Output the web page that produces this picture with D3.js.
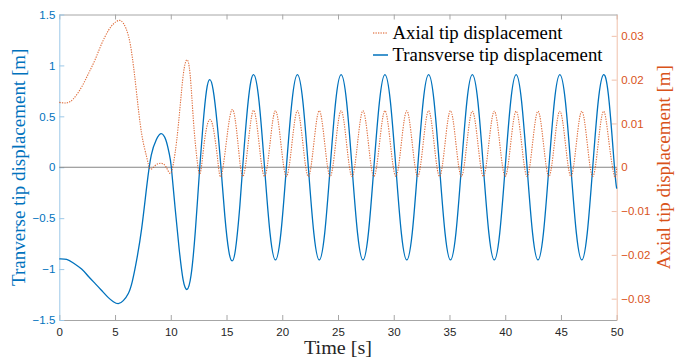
<!DOCTYPE html>
<html><head><meta charset="utf-8">
<script src="https://cdn.jsdelivr.net/npm/d3@7"></script>
<style>
html,body{margin:0;padding:0;background:#fff;}
svg{display:block;}
</style></head>
<body>
<svg id="chart" width="675" height="363"></svg>
<script>
// ---- data ----
const xTicks = [0,5,10,15,20,25,30,35,40,45,50];
const leftTicks = [-1.5,-1,-0.5,0,0.5,1,1.5];
const rightTicks = [-0.03,-0.02,-0.01,0,0.01,0.02,0.03];
const seriesNames = ["Axial tip displacement","Transverse tip displacement"];

// Transverse tip displacement [m]: [time s, value]
const transverse = [
 [0,-0.90],[0.66,-0.905],[1.26,-0.94],[2.0,-1.00],[2.6,-1.07],[3.2,-1.14],[3.8,-1.21],[4.4,-1.28],[4.85,-1.32],[5.29,-1.34],
 [5.74,-1.31],[6.19,-1.24],[6.55,-1.12],[6.94,-0.91],[7.39,-0.60],[7.84,-0.19],[8.25,0.12],[8.7,0.27],[9.12,0.33],[9.55,0.27],
 [9.85,0.14],[10.05,0.0],[10.38,-0.39],[10.74,-0.79],[11.1,-1.10],[11.46,-1.20],[11.82,-1.06],[12.2,-0.63],[12.6,0.0],[12.9,0.43],
 [13.2,0.75],[13.49,0.86],[13.8,0.76],[14.15,0.44],[14.5,0.0],[14.85,-0.48],[15.2,-0.82],[15.5,-0.92],[15.8,-0.81],[16.15,-0.44],
 [16.45,0],[16.94,0.645],[17.43,0.91],[17.92,0.645],[18.41,0],[18.90,-0.645],[19.39,-0.91],[19.88,-0.645],
 [20.37,0],[20.87,0.645],[21.36,0.91],[21.85,0.645],[22.34,0],[22.83,-0.645],[23.32,-0.91],[23.81,-0.645],
 [24.30,0],[24.79,0.645],[25.28,0.91],[25.77,0.645],[26.26,0],[26.75,-0.645],[27.24,-0.91],[27.73,-0.645],
 [28.22,0],[28.72,0.645],[29.21,0.91],[29.70,0.645],[30.19,0],[30.68,-0.645],[31.17,-0.91],[31.66,-0.645],
 [32.15,0],[32.64,0.645],[33.13,0.91],[33.62,0.645],[34.11,0],[34.60,-0.645],[35.09,-0.91],[35.58,-0.645],
 [36.07,0],[36.56,0.645],[37.05,0.91],[37.55,0.645],[38.04,0],[38.53,-0.645],[39.02,-0.91],[39.51,-0.645],
 [40.00,0],[40.49,0.645],[40.98,0.91],[41.47,0.645],[41.96,0],[42.45,-0.645],[42.94,-0.91],[43.43,-0.645],
 [43.92,0],[44.41,0.645],[44.90,0.91],[45.40,0.645],[45.89,0],[46.38,-0.645],[46.87,-0.91],[47.36,-0.645],
 [47.85,0],[48.34,0.645],[48.83,0.91],[49.32,0.645],[49.80,0],[50,-0.21]
];

// Axial tip displacement [m]: [time s, value]
const axial = [
 [0,0.0148],[0.66,0.0147],[1.26,0.0156],[2.0,0.0183],[2.6,0.0213],[3.2,0.0245],[3.8,0.0282],[4.4,0.0312],[4.85,0.0327],[5.3,0.0335],
 [5.74,0.0329],[6.19,0.0301],[6.55,0.0251],[6.94,0.0168],[7.39,0.0076],[7.84,0.0023],[8.15,-0.0004],[8.6,0.0004],[9.1,0.0009],[9.55,0.0002],
 [9.93,-0.0014],[10.23,0.0008],[10.53,0.0061],[10.83,0.0137],[11.13,0.0213],[11.43,0.0245],[11.73,0.0213],[12.03,0.0107],[12.33,0.0023],[12.62,-0.0015],
 [12.92,0.0038],[13.22,0.0091],[13.52,0.0109],[13.82,0.0088],[14.18,0.0023],[14.51,-0.0021],[15.0,0.0061],[15.52,0.0132],[16.0,0.0061],
 [16.45,-0.0021],[16.94,0.0054],[17.43,0.0130],[17.92,0.0054],[18.41,-0.0021],[18.90,0.0054],[19.39,0.0129],[19.88,0.0054],
 [20.37,-0.0021],[20.87,0.0054],[21.36,0.0129],[21.85,0.0054],[22.34,-0.0021],[22.83,0.0054],[23.32,0.0129],[23.81,0.0054],
 [24.30,-0.0021],[24.79,0.0054],[25.28,0.0129],[25.77,0.0054],[26.26,-0.0021],[26.75,0.0054],[27.24,0.0129],[27.73,0.0054],
 [28.22,-0.0021],[28.72,0.0054],[29.21,0.0129],[29.70,0.0054],[30.19,-0.0021],[30.68,0.0054],[31.17,0.0129],[31.66,0.0054],
 [32.15,-0.0021],[32.64,0.0054],[33.13,0.0129],[33.62,0.0054],[34.11,-0.0021],[34.60,0.0054],[35.09,0.0129],[35.58,0.0054],
 [36.07,-0.0021],[36.56,0.0054],[37.05,0.0128],[37.55,0.0054],[38.04,-0.0021],[38.53,0.0054],[39.02,0.0128],[39.51,0.0054],
 [40.00,-0.0021],[40.49,0.0054],[40.98,0.0128],[41.47,0.0054],[41.96,-0.0021],[42.45,0.0054],[42.94,0.0128],[43.43,0.0054],
 [43.92,-0.0021],[44.41,0.0054],[44.90,0.0128],[45.40,0.0054],[45.89,-0.0021],[46.38,0.0054],[46.87,0.0128],[47.36,0.0054],
 [47.85,-0.0021],[48.34,0.0054],[48.83,0.0128],[49.32,0.0054],[49.80,-0.0021],[50,0.0000]
];

// ---- drawing ----
const blue = "#0072BD", orange = "#D95319";
const svg = d3.select("#chart");
const L = 59.3, R = 616.7, T = 14.5, B = 320;
const x = d3.scaleLinear().domain([0,50]).range([L,R]);
const yL = d3.scaleLinear().domain([-1.5,1.5]).range([B,T]);
const yR = d3.scaleLinear().domain([-0.03487,0.03487]).range([B,T]);

svg.append("rect").attr("width",675).attr("height",363).attr("fill","#fff");

const tickFont = "'Liberation Sans', Arial, Helvetica, sans-serif";
const serif = "'Liberation Serif', 'Times New Roman', serif";

function fmt(v){ return v===0 ? "0" : d3.format("")(+v.toFixed(2)); }

// bottom axis
const gB = svg.append("g").attr("transform",`translate(0,${B})`)
  .call(d3.axisBottom(x).tickValues(xTicks).tickSizeInner(-5).tickSizeOuter(0).tickPadding(7.5).tickFormat(d3.format("d")));
// top axis (ticks only)
const gT = svg.append("g").attr("transform",`translate(0,${T})`)
  .call(d3.axisTop(x).tickValues(xTicks).tickSizeInner(-5).tickSizeOuter(0).tickFormat(""));
// left axis
const gL = svg.append("g").attr("transform",`translate(${L},0)`)
  .call(d3.axisLeft(yL).tickValues(leftTicks).tickSizeInner(-5).tickSizeOuter(0).tickPadding(4).tickFormat(fmt));
// right axis
const gR = svg.append("g").attr("transform",`translate(${R},0)`)
  .call(d3.axisRight(yR).tickValues(rightTicks).tickSizeInner(-5).tickSizeOuter(0).tickPadding(4.5).tickFormat(fmt));

[gB,gT].forEach(g=>{
  g.selectAll("path.domain").attr("stroke","#a6a6a6").attr("stroke-width",1);
  g.selectAll(".tick line").attr("stroke","#a6a6a6");
});
gB.selectAll("text").attr("fill","#262626").style("font-family",tickFont).style("font-size","11.5px");
gL.selectAll("path.domain").attr("stroke","#9cc8e8").attr("stroke-width",1);
gL.selectAll(".tick line").attr("stroke","#9cc8e8");
gL.selectAll("text").attr("fill",blue).style("font-family",tickFont).style("font-size","11.5px");
gR.selectAll("path.domain").attr("stroke","#f0c0aa").attr("stroke-width",1);
gR.selectAll(".tick line").attr("stroke","#f0c0aa");
gR.selectAll("text").attr("fill",orange).style("font-family",tickFont).style("font-size","11.5px");

// zero line
svg.append("line").attr("x1",L).attr("x2",R).attr("y1",yL(0)).attr("y2",yL(0))
  .attr("stroke","#858585").attr("stroke-width",1);

const lineL = d3.line().x(d=>x(d[0])).y(d=>yL(d[1])).curve(d3.curveNatural);
const lineR = d3.line().x(d=>x(d[0])).y(d=>yR(d[1])).curve(d3.curveNatural);

svg.append("path").datum(transverse).attr("d",lineL).attr("fill","none")
  .attr("stroke",blue).attr("stroke-width",1.3);
svg.append("path").datum(axial).attr("d",lineR).attr("fill","none")
  .attr("stroke",orange).attr("stroke-width",1.1).attr("stroke-dasharray","1.3,1.2").attr("stroke-opacity",0.85);

// axis titles
svg.append("text").attr("x",(L+R)/2).attr("y",354).attr("text-anchor","middle")
  .style("font-family",serif).style("font-size","19.5px").attr("fill","#262626")
  .attr("textLength",68).attr("lengthAdjust","spacingAndGlyphs").text("Time [s]");
svg.append("text").attr("transform",`translate(25,${(T+B)/2}) rotate(-90)`).attr("text-anchor","middle")
  .style("font-family",serif).style("font-size","19px").attr("fill",blue).text("Tranverse tip displacement [m]");
svg.append("text").attr("transform",`translate(670,${(T+B)/2}) rotate(-90)`).attr("text-anchor","middle")
  .style("font-family",serif).style("font-size","19px").attr("fill",orange).text("Axial tip displacement [m]");

// legend
const leg = svg.append("g");
const rows = [{name:seriesNames[0], color:orange, dash:"1.3,1.2", y:39, w:170},
              {name:seriesNames[1], color:blue, dash:null, y:61, w:210}];
rows.forEach(r=>{
  const ln = leg.append("line").attr("x1",373).attr("x2",388).attr("y1",r.y-6).attr("y2",r.y-6)
    .attr("stroke",r.color).attr("stroke-width",r.dash?1.1:1.5);
  if(r.dash) ln.attr("stroke-dasharray",r.dash);
  leg.append("text").attr("x",392.5).attr("y",r.y).style("font-family",serif).style("font-size","18.5px")
    .attr("fill","#000").attr("textLength",r.w).attr("lengthAdjust","spacingAndGlyphs").text(r.name);
});
</script>
</body></html>
